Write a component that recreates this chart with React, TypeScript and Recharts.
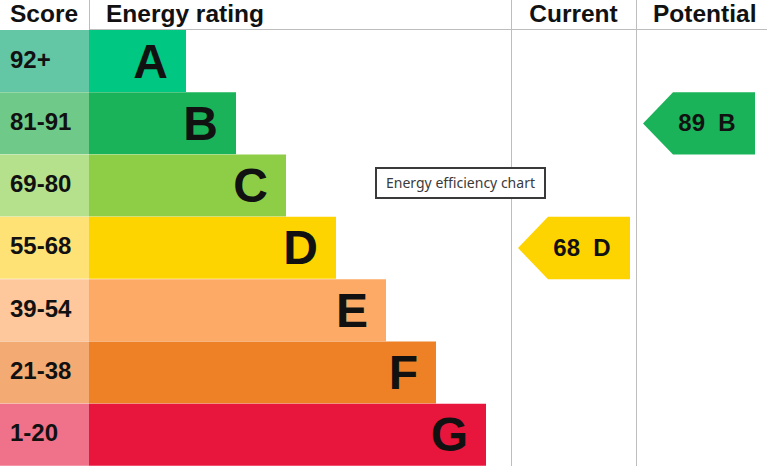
import React from "react";
import {
  ComposedChart,
  Bar,
  Cell,
  Scatter,
  XAxis,
  YAxis,
  ReferenceLine,
  LabelList,
} from "recharts";

const BANDS = ["A", "B", "C", "D", "E", "F", "G"];
const SCORE_RANGES = ["92+", "81-91", "69-80", "55-68", "39-54", "21-38", "1-20"];
const BAND_MIN = [92, 81, 69, 55, 39, 21, 1];
const BAR_LENGTHS = [97, 147, 197, 247, 297, 347, 397];
const BAND_COLORS = ["#00c781", "#1bb35a", "#8ece47", "#fed400", "#fcaa66", "#ee8025", "#e8163c"];
const SCORE_COLORS = ["#63c6a4", "#6fca8a", "#b5e08c", "#fee276", "#fec79c", "#f4ab73", "#ef718a"];
const CURRENT_SCORE = 68;
const POTENTIAL_SCORE = 89;

const W = 767;
const H = 466;
const HEADER_H = 30;
const SCORE_COL_W = 89;
const CURRENT_COL_X = 511.5;
const POTENTIAL_COL_X = 636.5;
const CURRENT_ARROW_X = 574;
const POTENTIAL_ARROW_X = 699;
const ROW_H = (H - HEADER_H) / BANDS.length;
const FONT = '"Liberation Sans", Arial, sans-serif';
const LINE = "#bdbdbd";

const bandIndex = (score: number) => BAND_MIN.findIndex((m) => score >= m);

const rows = BANDS.map((band, i) => ({
  band,
  range: SCORE_RANGES[i],
  scoreCol: SCORE_COL_W,
  length: BAR_LENGTHS[i],
}));

const arrowPoint = (score: number, x: number) => {
  const i = bandIndex(score);
  return [{ band: BANDS[i], x, score, idx: i }];
};

function ScoreLabel(props: any) {
  const { x, y, height, value } = props;
  return (
    <text x={x + 10} y={y + height / 2 - 2} dominantBaseline="central" fontFamily={FONT} fontWeight="bold" fontSize={24} fill="#111">
      {value}
    </text>
  );
}

function LetterLabel(props: any) {
  const { x, y, width, height, value } = props;
  return (
    <text x={x + width - 18} y={y + height / 2} textAnchor="end" dominantBaseline="central" fontFamily={FONT} fontWeight="bold" fontSize={48} fill="#111">
      {value}
    </text>
  );
}

function Arrow(props: any) {
  const { cx, cy, payload } = props;
  const half = 56;
  const tip = 30;
  const h = ROW_H;
  const pts = [
    [cx - half, cy],
    [cx - half + tip, cy - h / 2],
    [cx + half, cy - h / 2],
    [cx + half, cy + h / 2],
    [cx - half + tip, cy + h / 2],
  ]
    .map((p) => p.join(","))
    .join(" ");
  return (
    <g>
      <polygon points={pts} fill={BAND_COLORS[payload.idx]} />
      <text
        x={cx + 8}
        y={cy - 1}
        textAnchor="middle"
        dominantBaseline="central"
        fontFamily={FONT}
        fontWeight="bold"
        fontSize={24}
        fill="#111"
        style={{ whiteSpace: "pre" }}
      >
        {`${payload.score}  ${payload.band}`}
      </text>
    </g>
  );
}

const headText: React.CSSProperties = {
  position: "absolute",
  top: 2,
  fontFamily: FONT,
  fontWeight: "bold",
  fontSize: 24.5,
  lineHeight: "24px",
  color: "#111",
  whiteSpace: "nowrap",
};

export default function App() {
  return (
    <div style={{ position: "absolute", left: 0, top: 0, width: W, height: H, background: "#fff", overflow: "hidden" }}>
      <ComposedChart
        width={W}
        height={H}
        data={rows}
        layout="vertical"
        margin={{ top: HEADER_H, right: 0, bottom: 0, left: 0 }}
        barCategoryGap={0}
      >
        <XAxis type="number" domain={[0, W]} hide />
        <YAxis type="category" dataKey="band" hide allowDuplicatedCategory={false} />
        <Bar dataKey="scoreCol" stackId="s" isAnimationActive={false}>
          {rows.map((r, i) => (
            <Cell key={r.band} fill={SCORE_COLORS[i]} />
          ))}
          <LabelList dataKey="range" content={<ScoreLabel />} />
        </Bar>
        <Bar dataKey="length" stackId="s" isAnimationActive={false}>
          {rows.map((r, i) => (
            <Cell key={r.band} fill={BAND_COLORS[i]} />
          ))}
          <LabelList dataKey="band" content={<LetterLabel />} />
        </Bar>
        <ReferenceLine x={CURRENT_COL_X} stroke={LINE} strokeWidth={1} />
        <ReferenceLine x={POTENTIAL_COL_X} stroke={LINE} strokeWidth={1} />
        <Scatter
          data={arrowPoint(CURRENT_SCORE, CURRENT_ARROW_X)}
          dataKey="x"
          shape={<Arrow />}
          isAnimationActive={false}
        />
        <Scatter
          data={arrowPoint(POTENTIAL_SCORE, POTENTIAL_ARROW_X)}
          dataKey="x"
          shape={<Arrow />}
          isAnimationActive={false}
        />
      </ComposedChart>

      {/* header row */}
      <div style={{ position: "absolute", left: SCORE_COL_W, top: 29, width: W - SCORE_COL_W, height: 1, background: LINE }} />
      <div style={{ position: "absolute", left: SCORE_COL_W, top: 0, width: 1, height: 29, background: LINE }} />
      <div style={{ position: "absolute", left: 511, top: 0, width: 1, height: 30, background: LINE }} />
      <div style={{ position: "absolute", left: 636, top: 0, width: 1, height: 30, background: LINE }} />
      <div style={{ ...headText, left: 10 }}>Score</div>
      <div style={{ ...headText, left: 106 }}>Energy rating</div>
      <div style={{ ...headText, left: 511, width: 125, textAlign: "center" }}>Current</div>
      <div style={{ ...headText, left: 653 }}>Potential</div>

      <div
        style={{
          position: "absolute",
          left: 375,
          top: 167,
          width: 171,
          height: 32,
          boxSizing: "border-box",
          border: "2px solid #3a3a3a",
          background: "#fff",
          fontFamily: '"Noto Sans", sans-serif',
          fontSize: 14,
          lineHeight: "28px",
          color: "#3a3a3a",
          textAlign: "center",
        }}
      >
        Energy efficiency chart
      </div>
    </div>
  );
}
